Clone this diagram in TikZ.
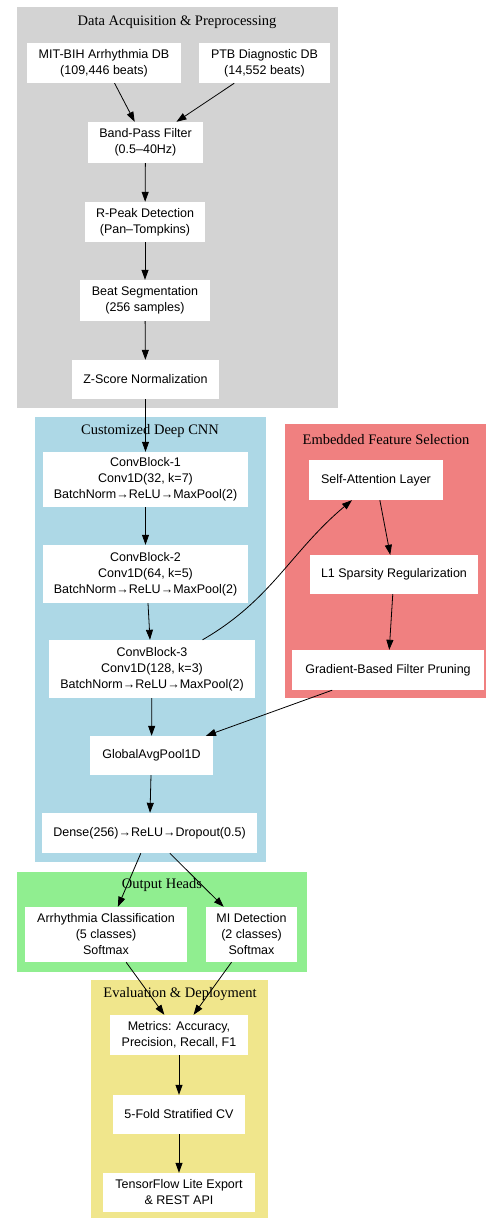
\documentclass[tikz,border=0pt]{standalone}
\usepackage{fontspec}
\setmainfont{Liberation Serif}
\setsansfont{Liberation Sans}
\usetikzlibrary{arrows.meta,calc}
\definecolor{cgray}{RGB}{211,211,211}
\definecolor{cblue}{RGB}{173,216,230}
\definecolor{cred}{RGB}{240,128,128}
\definecolor{cgreen}{RGB}{144,238,144}
\definecolor{cyellow}{RGB}{240,230,140}
\tikzset{
  box/.style={fill=white, inner sep=0pt, align=center,
    font=\sffamily\fontsize{12.5}{16}\selectfont},
  ctitle/.style={inner sep=0pt, font=\rmfamily\fontsize{14.5}{17}\selectfont},
  arr/.style={-{Triangle[length=10pt,width=7pt]}, line width=0.8pt, black},
}
\newcommand{\bx}[6]{\node[box, minimum width=#4pt, minimum height=#5pt] (#1) at (#2,#3) {#6};}
\begin{document}
\begin{tikzpicture}[x=1pt,y=-1pt]
\useasboundingbox (0,0) rectangle (486,1220);
\fill[white] (0,0) rectangle (486,1220);
% clusters
\fill[cgray] (17,7) rectangle (338,408);
\fill[cblue] (35,417) rectangle (266,862);
\fill[cred] (285,424) rectangle (486,698);
\fill[cgreen] (17,872) rectangle (307,972);
\fill[cyellow] (91,980) rectangle (268,1218);
\node[ctitle] (t1) at (177,22) {Data Acquisition \& Preprocessing};
\node[ctitle] (t2) at (150,431) {Customized Deep CNN};
\node[ctitle] (t3) at (386,440) {Embedded Feature Selection};
\node[ctitle] (t4) at (162,885) {Output Heads};
\node[ctitle] (t5) at (180,994) {Evaluation \& Deployment};
% nodes
\bx{mit}{104}{63}{154}{40}{MIT-BIH Arrhythmia DB\\(109,446 beats)}
\bx{ptb}{264.5}{63}{131}{40}{PTB Diagnostic DB\\(14,552 beats)}
\bx{bpf}{145.5}{142.5}{115}{41}{Band-Pass Filter\\(0.5–40Hz)}
\bx{rpk}{145}{222}{120}{40}{R-Peak Detection\\(Pan–Tompkins)}
\bx{beat}{145}{300.5}{130}{41}{Beat Segmentation\\(256 samples)}
\bx{zs}{145.5}{379.5}{147}{39}{Z-Score Normalization}
\bx{cb1}{145.5}{479.5}{205}{55}{ConvBlock-1\\Conv1D(32, k=7)\\BatchNorm→ReLU→MaxPool(2)}
\bx{cb2}{145.5}{574}{205}{58}{ConvBlock-2\\Conv1D(64, k=5)\\BatchNorm→ReLU→MaxPool(2)}
\bx{cb3}{152}{669}{206}{58}{ConvBlock-3\\Conv1D(128, k=3)\\BatchNorm→ReLU→MaxPool(2)}
\bx{gap}{151.5}{755.5}{123}{39}{GlobalAvgPool1D}
\bx{dense}{149.5}{833}{215}{40}{Dense(256)→ReLU→Dropout(0.5)}
\bx{sa}{376}{480}{134}{40}{Self-Attention Layer}
\bx{l1}{394}{574.5}{168}{39}{L1 Sparsity Regularization}
\bx{gfp}{388}{670}{192}{40}{Gradient-Based Filter Pruning}
\bx{arrh}{106}{934.5}{162}{55}{Arrhythmia Classification\\(5 classes)\\Softmax}
\bx{mi}{251.5}{934.5}{91}{55}{MI Detection\\(2 classes)\\Softmax}
\bx{met}{179}{1035}{138}{40}{Metrics: Accuracy,\\Precision, Recall, F1}
\bx{cv}{179}{1114.5}{132}{39}{5-Fold Stratified CV}
\bx{tf}{179}{1192.5}{152}{39}{TensorFlow Lite Export\\\& REST API}
% edges
\draw[arr] (mit) -- (bpf);
\draw[arr] (ptb) -- (bpf);
\draw[arr] (bpf) -- (rpk);
\draw[arr] (rpk) -- (beat);
\draw[arr] (beat) -- (zs);
\draw[arr] (zs) -- (cb1);
\draw[arr] (cb1) -- (cb2);
\draw[arr] (cb2.south -| 148,0) -- (cb3.north -| 150,0);
\draw[arr] (cb3) to[out=30,in=-140] (sa);
\draw[arr] (sa) -- (l1);
\draw[arr] (l1) -- (gfp);
\draw[arr] (gfp) -- (gap);
\draw[arr] (cb3) -- (gap);
\draw[arr] (gap) -- (dense);
\draw[arr] (dense) -- (arrh);
\draw[arr] (dense) -- (mi);
\draw[arr] (arrh) -- (met);
\draw[arr] (mi) -- (met);
\draw[arr] (met) -- (cv);
\draw[arr] (cv) -- (tf);
\end{tikzpicture}
\end{document}
